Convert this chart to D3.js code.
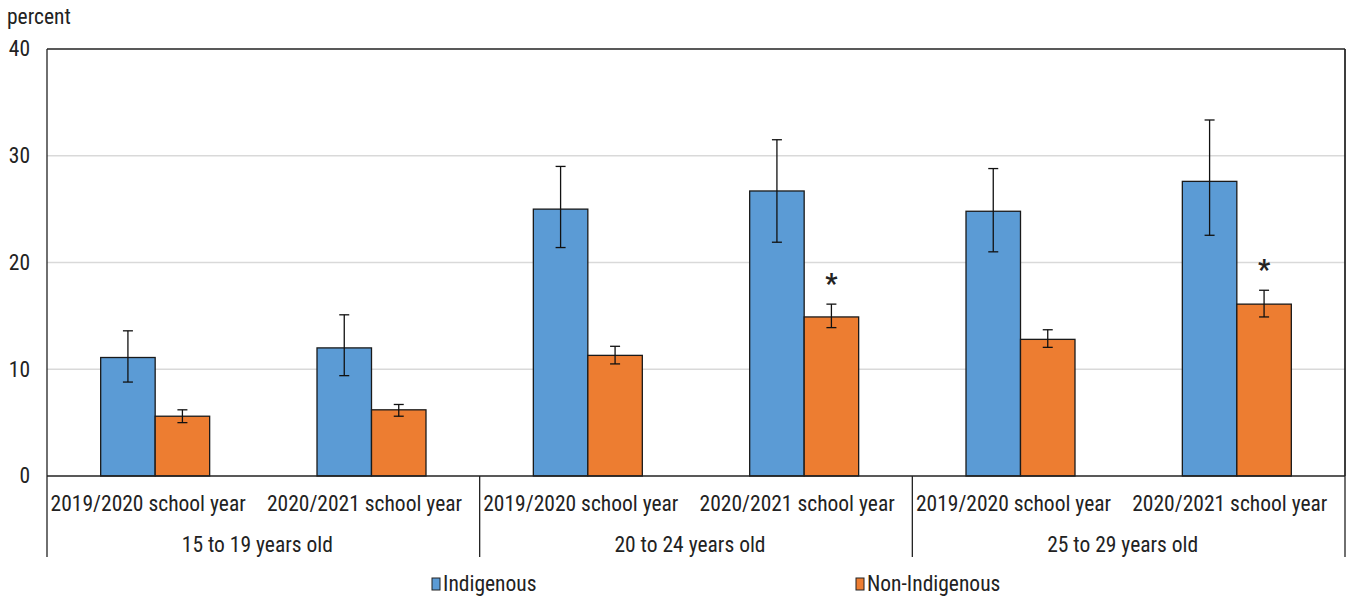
<!DOCTYPE html>
<html><head><meta charset="utf-8">
<script src="https://cdn.jsdelivr.net/npm/d3@7/dist/d3.min.js"></script>
<style>
body{margin:0;background:#fff;}
text{font-family:"Liberation Sans Narrow","Arial Narrow","Roboto Condensed","Liberation Sans",sans-serif;fill:#222;}
</style></head>
<body><svg id="chart" width="1347" height="596"></svg>
<script>
const categories = ["2019/2020 school year","2020/2021 school year","2019/2020 school year","2020/2021 school year","2019/2020 school year","2020/2021 school year"];
const groups = ["15 to 19 years old","20 to 24 years old","25 to 29 years old"];
const series = ["Indigenous","Non-Indigenous"];
const indigenous = [11.1, 12.0, 25.0, 26.7, 24.8, 27.6];
const indigenousLow = [8.8, 9.4, 21.4, 21.9, 21.0, 22.55];
const indigenousHigh = [13.6, 15.1, 29.0, 31.5, 28.8, 33.35];
const nonIndigenous = [5.6, 6.2, 11.3, 14.9, 12.8, 16.1];
const nonIndigenousLow = [5.0, 5.6, 10.5, 13.9, 12.05, 14.9];
const nonIndigenousHigh = [6.2, 6.7, 12.15, 16.1, 13.7, 17.4];
const significant = [false, false, false, true, false, true];
const yTicks = [0, 10, 20, 30, 40];
const colors = ["#5b9bd5", "#ed7d31"];

const FS = "21.5px";
const svg = d3.select("#chart");
const m = {left: 47, right: 2, top: 49, bottom: 120};
const W = 1347, H = 596;
const x0 = m.left, x1 = W - m.right, yTop = m.top, yBot = 476;

const idx = d3.range(categories.length);
const x = d3.scaleBand().domain(idx).range([x0, x1]).padding(0);
const xs = d3.scaleBand().domain(series).range([0, x.bandwidth()]).paddingInner(0).paddingOuter(0.985);
const y = d3.scaleLinear().domain([0, 40]).range([yBot, yTop]);

// gridlines
svg.append("g").selectAll("line").data(yTicks.filter(t => t > 0 && t < 40)).join("line")
  .attr("x1", x0).attr("x2", x1).attr("y1", d => y(d)).attr("y2", d => y(d))
  .attr("stroke", "#d9d9d9").attr("stroke-width", 1.5);

// y axis labels
const yAxis = d3.axisLeft(y).tickValues(yTicks).tickSize(0).tickPadding(17);
const ya = svg.append("g").attr("transform", `translate(${x0},0)`).call(yAxis);
ya.select(".domain").remove();
ya.selectAll("text").style("font-size", FS).style("font-family", null).attr("fill", "#222");

svg.append("text").attr("x", 7).attr("y", 24).style("font-size", FS).text("percent");

const data = idx.map(i => ({i, vals: [
  {s: series[0], v: indigenous[i], lo: indigenousLow[i], hi: indigenousHigh[i]},
  {s: series[1], v: nonIndigenous[i], lo: nonIndigenousLow[i], hi: nonIndigenousHigh[i]}
]}));

const cg = svg.append("g").selectAll("g").data(data).join("g")
  .attr("transform", d => `translate(${x(d.i)},0)`);
cg.selectAll("rect").data(d => d.vals).join("rect")
  .attr("x", d => xs(d.s)).attr("width", xs.bandwidth())
  .attr("y", d => y(d.v)).attr("height", d => y(0) - y(d.v))
  .attr("fill", (d, j) => colors[j]).attr("stroke", "#1a1a1a").attr("stroke-width", 1.3);

// error bars
const eb = cg.selectAll("g.err").data(d => d.vals).join("g").attr("class", "err")
  .attr("transform", d => `translate(${xs(d.s) + xs.bandwidth() / 2},0)`);
eb.append("line").attr("y1", d => y(d.lo)).attr("y2", d => y(d.hi)).attr("stroke", "#111").attr("stroke-width", 1.3);
eb.append("line").attr("x1", -5).attr("x2", 5).attr("y1", d => y(d.hi)).attr("y2", d => y(d.hi)).attr("stroke", "#111").attr("stroke-width", 1.3);
eb.append("line").attr("x1", -5).attr("x2", 5).attr("y1", d => y(d.lo)).attr("y2", d => y(d.lo)).attr("stroke", "#111").attr("stroke-width", 1.3);

// significance asterisks
cg.filter(d => significant[d.i]).append("text")
  .attr("x", xs(series[1]) + xs.bandwidth() / 2)
  .attr("y", d => y(d.vals[1].hi) - 11)
  .attr("text-anchor", "middle").style("font-size", "27px").style("font-weight", "bold").attr("fill", "#111").text("*");

// frame
svg.append("line").attr("x1", x0).attr("x2", x1).attr("y1", yTop).attr("y2", yTop).attr("stroke", "#222").attr("stroke-width", 1.3);
svg.append("line").attr("x1", x1).attr("x2", x1).attr("y1", yTop).attr("y2", yBot).attr("stroke", "#222").attr("stroke-width", 1.3);
svg.append("line").attr("x1", x0).attr("x2", x1).attr("y1", yBot).attr("y2", yBot).attr("stroke", "#222").attr("stroke-width", 1.5);

// group separators
const sepX = [0, 2, 4].map(i => x(i)).concat([x1]);
svg.append("g").selectAll("line").data(sepX).join("line")
  .attr("x1", d => d).attr("x2", d => d).attr("y2", 557)
  .attr("stroke", "#222").attr("stroke-width", 1.3)
  .attr("y1", (d, k) => (k === 0 || k === 3) ? yTop : yBot);

// category labels
svg.append("g").selectAll("text").data(idx).join("text")
  .attr("x", i => x(i) + x.bandwidth() / 2 - 7).attr("y", 511)
  .attr("text-anchor", "middle").style("font-size", FS).text(i => categories[i]);

svg.append("g").selectAll("text").data(groups).join("text")
  .attr("x", (g, k) => x(2 * k) + x.bandwidth() - 6).attr("y", 552)
  .attr("text-anchor", "middle").style("font-size", FS).text(g => g);

// legend
const legX = [432, 856];
const lg = svg.append("g").selectAll("g").data(series).join("g")
  .attr("transform", (s, k) => `translate(${legX[k]},578)`);
lg.append("rect").attr("width", 8).attr("height", 12).attr("fill", (s, k) => colors[k]).attr("stroke", "#222").attr("stroke-width", 1);
lg.append("text").attr("x", 11).attr("y", 13).style("font-size", FS).text(s => s);
</script></body></html>
